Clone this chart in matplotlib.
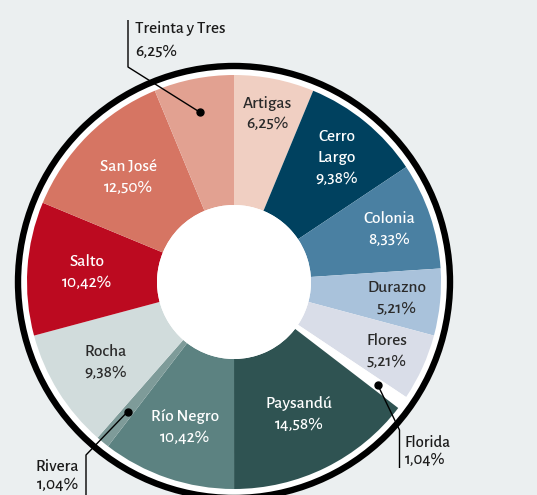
import numpy as np
import matplotlib
matplotlib.use("Agg")
import matplotlib.pyplot as plt
from matplotlib.patches import Circle

# ---- data ----
departments = ["Artigas", "Cerro Largo", "Colonia", "Durazno", "Flores", "Florida",
               "Paysandú", "Río Negro", "Rivera", "Rocha", "Salto", "San José",
               "Treinta y Tres"]
shares = [6.25, 9.38, 8.33, 5.21, 5.21, 1.04, 14.58, 10.42, 1.04, 9.38, 10.42, 12.50, 6.25]
label_texts = ["Artigas\n6,25%", "Cerro\nLargo\n9,38%", "Colonia\n8,33%", "Durazno\n5,21%",
               "Flores\n5,21%", "Florida\n1,04%", "Paysandú\n14,58%", "Río Negro\n10,42%",
               "Rivera\n1,04%", "Rocha\n9,38%", "Salto\n10,42%", "San José\n12,50%",
               "Treinta y Tres\n6,25%"]

# ---- styles ----
colors = ["#F0CFC2", "#00415F", "#4A80A2", "#A9C2DB", "#D9DDE8", "#FFFFFF",
          "#2F5352", "#5C8281", "#7E9B99", "#D1DCDC", "#BC0A20", "#D67563", "#E2A191"]
text_colors = ["#2a2a2a", "white", "white", "#2a2a2a", "#2a2a2a", "#2a2a2a",
               "white", "white", "#2a2a2a", "#2a2a2a", "white", "white", "#2a2a2a"]
label_r = [0.83, 0.78, 0.79, 0.79, 0.81, None, 0.71, 0.74, None, 0.73, 0.71, 0.72, None]

BG = "#EBEFF0"
FONT = ["Alegreya Sans", "DejaVu Sans"]
WEIGHT = "medium"

W, H = 537, 495
fig = plt.figure(figsize=(W / 100, H / 100), dpi=100, facecolor=BG)
ax = fig.add_axes([0, 0, 1, 1])

cx, cy = 234, H - 282
R = 207
hole = 77

ax.add_patch(Circle((cx, cy), 214, facecolor="white", edgecolor="none", zorder=0))
wedges, _ = ax.pie(shares, colors=colors, startangle=90, counterclock=False,
                   center=(cx, cy), radius=R, frame=True,
                   wedgeprops=dict(width=R - hole, linewidth=0))
ax.add_patch(Circle((cx, cy), hole, facecolor="white", edgecolor="none", zorder=3))
ax.set_xlim(0, W)
ax.set_ylim(0, H)
ax.set_aspect("equal")
ax.axis("off")

ax.add_patch(Circle((cx, cy), 216, fill=False, edgecolor="black", linewidth=4.6, zorder=4))

for w, txt, tc, rf in zip(wedges, label_texts, text_colors, label_r):
    ang = np.deg2rad((w.theta1 + w.theta2) / 2)
    if rf is not None:
        x = cx + rf * R * np.cos(ang)
        y = cy + rf * R * np.sin(ang)
        ax.text(x, y, txt, ha="center", va="center", color=tc, fontsize=12.5,
                family=FONT, fontweight=WEIGHT, linespacing=1.5, zorder=5)

def callout(idx, rdot, pts, tx, ty, ha, fs, ls):
    w = wedges[idx]
    ang = np.deg2rad((w.theta1 + w.theta2) / 2)
    dx = cx + rdot * R * np.cos(ang)
    dy = cy + rdot * R * np.sin(ang)
    xs = [dx] + [p[0] for p in pts]
    ys = [dy] + [p[1] for p in pts]
    ax.plot(xs, ys, color="black", lw=1.0, solid_capstyle="butt", zorder=6)
    ax.plot([dx], [dy], "o", color="black", ms=5, zorder=6)
    ax.text(tx, ty, label_texts[idx], ha=ha, va="center", color="#1a1a1a",
            fontsize=fs, family=FONT, fontweight=WEIGHT, linespacing=ls, zorder=6)

callout(12, 0.835, [(128, H - 67), (128, H - 20)], 135, H - 40, "left", 12.4, 1.6)
callout(5, 0.855, [(399.5, H - 430), (399.5, H - 468)], 405, H - 451, "left", 12, 1.15)
callout(8, 0.81, [(86, H - 455), (86, -5)], 79, H - 475, "right", 12.5, 1.25)

fig.savefig("out.png", dpi=100, facecolor=BG)
